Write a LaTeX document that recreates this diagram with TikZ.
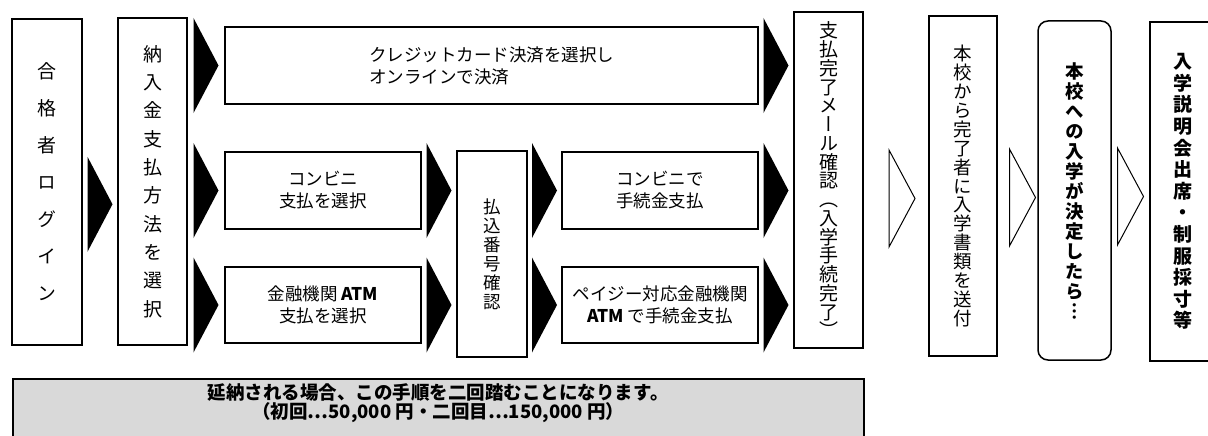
\documentclass[tikz,border=0pt]{standalone}
\usepackage{fontspec}
\setmainfont{Noto Sans CJK JP}
\newfontfamily\vfont[RawFeature=+vert]{Noto Sans CJK JP}
\usetikzlibrary{calc}
\definecolor{notegray}{HTML}{D9D9D9}
% one character under the other
\newcommand\vstk[1]{\vstkA#1\relax}
\def\vstkA#1{\ifx#1\relax\else\hbox to 1em{\hss#1\hss}\expandafter\vstkA\fi}
\newcommand\vtxt[2]{\vbox{\vfont\baselineskip=#1\lineskiplimit=-\maxdimen\vstk{#2}}}
\begin{document}
\begin{tikzpicture}
      [x=1pt,y=-1pt,inner sep=0pt,
       font=\fontsize{17.5pt}{22pt}\selectfont,
       step box/.style={draw,line width=1.5pt},
       wide box/.style={step box,minimum width=196,minimum height=77,align=center},
       blk/.pic={\fill (-12.5,-47.5) -- (12.5,0) -- (-12.5,47.5) -- cycle;},
       wht/.pic={\draw[line width=1pt,line join=miter] (-13,-48.5) -- (13,0) -- (-13,48.5) -- cycle;}]
      \useasboundingbox (0,0) rectangle (1208,436);
      % columns
      \node at (47,182) (login) [step box,minimum width=70,minimum height=326]
        {\fontsize{19pt}{22pt}\selectfont\vtxt{37pt}{合格者ログイン}};
      \node at (152.5,181.5) (select) [step box,minimum width=69,minimum height=327]
        {\fontsize{19pt}{22pt}\selectfont\vtxt{28.3pt}{納入金支払方法を選択}};
      \node at (491.5,65.5) (credit) [step box,minimum width=533,minimum height=77,align=left]
        {クレジットカード決済を選択し\\オンラインで決済};
      \node at (323,190.5) (conbini) [wide box] {コンビニ\\支払を選択};
      \node at (323,305) (atm) [wide box,minimum height=76] {金融機関 \textbf{ATM}\\支払を選択};
      \node at (492,254) (payno) [step box,minimum width=70,minimum height=206]
        {\vtxt{19pt}{払込番号確認}};
      \node at (660,190.5) (conbini2) [wide box] {コンビニで\\手続金支払};
      \node at (660,305) (payeasy) [wide box,minimum height=76] {ペイジー対応金融機関\\\textbf{ATM} で手続金支払};
      \node at (828.5,180) (mail) [step box,minimum width=69,minimum height=336]
        {\fontsize{19pt}{22pt}\selectfont\vtxt{18.75pt}{支払完了メール確認（入学手続完了）}};
      \node at (963,186) (docs) [step box,minimum width=68,minimum height=340]
        {\fontsize{18.5pt}{22pt}\selectfont\vtxt{18.9pt}{本校から完了者に入学書類を送付}};
      \node at (1074.5,190.5) (decide) [step box,rounded corners=10pt,minimum width=73,minimum height=339]
        {\fontsize{18.5pt}{22pt}\selectfont\bfseries\vtxt{20pt}{本校への入学が決定したら︙}};
      \node at (1183,191.5) (brief) [step box,minimum width=66,minimum height=339]
        {\fontsize{19pt}{22pt}\selectfont\bfseries\vtxt{21.6pt}{入学説明会出席・制服採寸等}};
      \node at (12,378) (note) [step box,fill=notegray,anchor=north west,minimum width=851,
        align=center,inner ysep=5pt,font=\fontsize{18.5pt}{17pt}\selectfont\bfseries]
        {延納される場合、この手順を二回踏むことになります。\\（初回⋯50,000 円・二回目⋯150,000 円）\rule[-30pt]{0pt}{30pt}};
      % black steps
      \pic at ($(login.east)!.5!(select.west)+(0,22.5)$) {blk};
      \foreach \t in {credit,conbini,atm}
        \pic at ($(select.east |- \t.west)!.5!(\t.west)$) {blk};
      \foreach \s in {conbini,atm}
        \pic at ($(\s.east)!.5!(payno.west |- \s.east)$) {blk};
      \foreach \t in {conbini2,payeasy}
        \pic at ($(payno.east |- \t.west)!.5!(\t.west)$) {blk};
      \foreach \s in {credit,conbini2,payeasy}
        \pic at ($(\s.east)!.5!(mail.west |- \s.east)$) {blk};
      % white steps
      \pic at ($(mail.east |- 0,198.5)!.5!(docs.west |- 0,198.5)+(6,0)$) {wht};
      \pic at ($(docs.east |- 0,197.5)!.5!(decide.west |- 0,197.5)+(5,0)$) {wht};
      \pic at ($(decide.east |- 0,196.5)!.5!(brief.west |- 0,196.5)$) {wht};
    \end{tikzpicture}
\end{document}
